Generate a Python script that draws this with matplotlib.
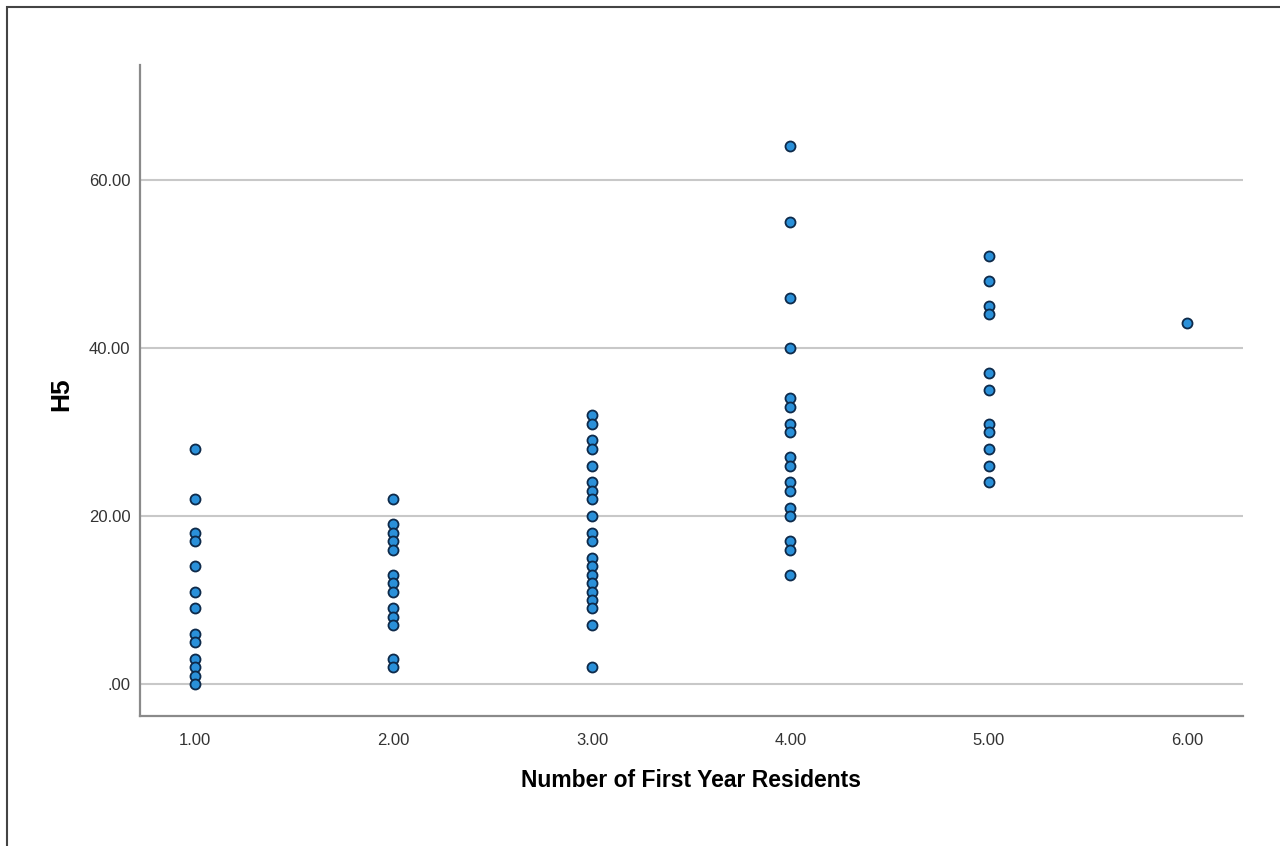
import matplotlib
matplotlib.use("Agg")
import matplotlib.pyplot as plt
from matplotlib.patches import Rectangle

plt.rcParams['font.family'] = ['Liberation Sans', 'DejaVu Sans']

# Data
residents_1 = [28, 22, 18, 17, 14, 11, 9, 6, 5, 3, 2, 1, 0]
residents_2 = [22, 19, 18, 17, 16, 13, 12, 11, 9, 8, 7, 3, 2]
residents_3 = [32, 31, 29, 28, 26, 24, 23, 22, 20, 18, 17, 15, 14, 13, 12, 11, 10, 9, 7, 2]
residents_4 = [64, 55, 46, 40, 34, 33, 31, 30, 27, 26, 24, 23, 21, 20, 17, 16, 13]
residents_5 = [51, 48, 45, 44, 37, 35, 31, 30, 28, 26, 24]
residents_6 = [43]
groups = [1.0, 2.0, 3.0, 4.0, 5.0, 6.0]
h5_values = [residents_1, residents_2, residents_3, residents_4, residents_5, residents_6]
x_ticks = [1, 2, 3, 4, 5, 6]
x_tick_labels = ["1.00", "2.00", "3.00", "4.00", "5.00", "6.00"]
y_ticks = [0, 20, 40, 60]
y_tick_labels = [".00", "20.00", "40.00", "60.00"]

fig = plt.figure(figsize=(12.8, 8.46), dpi=100)
ax = fig.add_axes([140/1280, 1 - 716/846, (1243-140)/1280, (716-65)/846])

xs, ys = [], []
for g, vals in zip(groups, h5_values):
    xs += [g] * len(vals)
    ys += vals
ax.scatter(xs, ys, s=52, facecolor="#2a90d9", edgecolor="#0e2a4a", linewidth=1.3, zorder=3)

ax.set_xlim(0.723, 6.28)
ax.set_ylim(-3.8, 73.7)
ax.set_xticks(x_ticks)
ax.set_xticklabels(x_tick_labels)
ax.set_yticks(y_ticks)
ax.set_yticklabels(y_tick_labels)
ax.tick_params(length=0, labelsize=12, colors="#333333")
ax.tick_params(axis="x", pad=12)
ax.tick_params(axis="y", pad=7)
ax.yaxis.grid(True, color="#c8c8c8", linewidth=1.5, zorder=0)
ax.set_axisbelow(True)
for s in ["top", "right"]:
    ax.spines[s].set_visible(False)
for s in ["left", "bottom"]:
    ax.spines[s].set_color("#8a8a8a")
    ax.spines[s].set_linewidth(1.6)

ax.set_xlabel("Number of First Year Residents", fontsize=16.5, fontweight="bold", va="center")
ax.xaxis.set_label_coords((691-140)/1103, (716-780)/651)
ax.set_ylabel("H5", fontsize=19, fontweight="bold", va="center")
ax.yaxis.set_label_coords((61-140)/1103, (716-394)/651)

fig.patches.append(Rectangle((7/1280, -0.1), 1.2, 1 - 7/846 + 0.1, transform=fig.transFigure,
                             fill=False, edgecolor="#444444", linewidth=1.5))

fig.savefig("out.png", dpi=100)
